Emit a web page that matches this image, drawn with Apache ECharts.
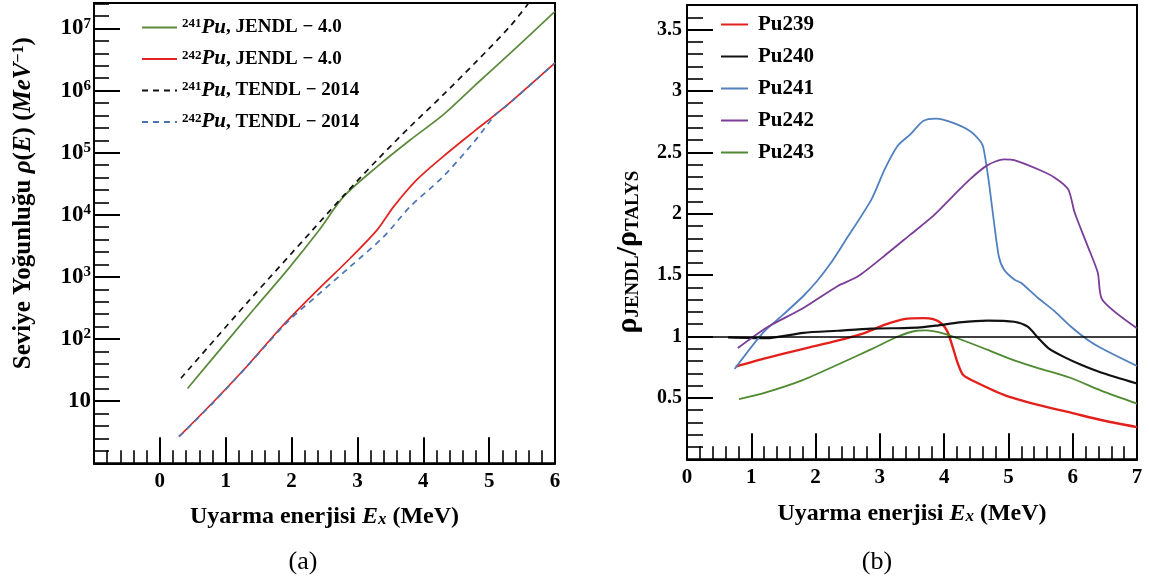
<!DOCTYPE html>
<html><head><meta charset="utf-8">
<script src="https://cdn.jsdelivr.net/npm/echarts@6/dist/echarts.min.js"></script>
<style>
html,body{margin:0;padding:0;background:#fff}
#wrap{position:relative;width:1149px;height:583px}
#ca{position:absolute;left:0;top:0;width:580px;height:583px}
#cb{position:absolute;left:580px;top:0;width:569px;height:583px}
</style>
</head><body><div id="wrap"><div id="ca"></div><div id="cb"></div></div>
<script>
// ---------- Panel (a): level density, log scale ----------
const A_X_241_JENDL = [0.42, 0.97, 1.44, 1.95, 2.42, 2.79, 3.3, 3.8, 4.3, 4.79, 5.33, 6.0];
const A_Y_241_JENDL = [16, 80, 313, 1350, 5700, 19600, 59700, 160000, 406000, 1230000, 4100000, 18800000];
const A_X_242_JENDL = [0.29, 0.815, 1.34, 1.85, 2.37, 2.89, 3.3, 3.55, 3.9, 4.3, 4.79, 5.08, 5.33, 6.0];
const A_Y_242_JENDL = [2.68, 9.8, 38.3, 158, 580, 2000, 5720, 13550, 36500, 86500, 229000, 400000, 660000, 2800000];
const A_X_241_TENDL = [0.32, 1.34, 2.32, 2.8, 3.3, 3.8, 4.3, 4.79, 5.33, 5.6];
const A_Y_241_TENDL = [23.4, 400, 5710, 20900, 76600, 263000, 850000, 2820000, 11200000, 25700000];
const A_X_242_TENDL = [0.29, 0.815, 1.34, 1.95, 2.37, 2.89, 3.4, 3.8, 4.3, 4.79, 5.08, 5.33, 6.0];
const A_Y_242_TENDL = [2.68, 9.6, 38, 195, 482, 1466, 4460, 13550, 41200, 158000, 390000, 650000, 2800000];
const A_ISOTOPES = ['241', '242', '241', '242'];
const A_LIBS = ['JENDL − 4.0', 'JENDL − 4.0', 'TENDL − 2014', 'TENDL − 2014'];
const A_X_TICKS = { min: -1, max: 6, step: 1 };
const A_Y_RANGE = { min: 1, maxExp: 7.41, minorStepExp: 0.2 };

// ---------- Panel (b): ratio JENDL / TALYS ----------
const B_NAMES = ['Pu239', 'Pu240', 'Pu241', 'Pu242', 'Pu243'];
const B_X_PU239 = [0.76, 1.23, 1.81, 2.34, 2.76, 3.08, 3.375, 3.675, 3.83, 3.95, 4.05, 4.13, 4.21, 4.29, 4.4, 4.93, 5.46, 5.97, 6.44, 7.0];
const B_Y_PU239 = [0.756, 0.824, 0.9, 0.966, 1.028, 1.096, 1.142, 1.15, 1.142, 1.11, 1.042, 0.92, 0.785, 0.69, 0.652, 0.525, 0.443, 0.38, 0.32, 0.262];
const B_X_PU240 = [0.64, 1.23, 1.81, 2.34, 2.87, 3.375, 3.625, 3.875, 4.24, 4.67, 5.09, 5.3, 5.46, 5.62, 5.87, 6.13, 6.44, 7.0];
const B_Y_PU240 = [0.993, 0.987, 1.03, 1.047, 1.064, 1.069, 1.074, 1.088, 1.115, 1.13, 1.12, 1.08, 0.99, 0.906, 0.832, 0.77, 0.707, 0.617];
const B_X_PU241 = [0.74, 1.18, 1.5, 1.81, 2.02, 2.24, 2.45, 2.87, 3.075, 3.275, 3.475, 3.675, 3.875, 4.13, 4.4, 4.56, 4.61, 4.69, 4.77, 4.85, 4.93, 5.09, 5.2, 5.46, 5.72, 5.97, 6.23, 6.44, 7.0];
const B_Y_PU241 = [0.735, 1.03, 1.18, 1.33, 1.45, 1.6, 1.77, 2.117, 2.362, 2.552, 2.647, 2.756, 2.775, 2.742, 2.674, 2.592, 2.538, 2.28, 1.953, 1.654, 1.545, 1.464, 1.436, 1.314, 1.205, 1.082, 0.974, 0.906, 0.76];
const B_X_PU242 = [0.79, 1.23, 1.81, 2.34, 2.66, 3.125, 3.475, 3.825, 4.13, 4.4, 4.67, 4.93, 5.09, 5.46, 5.72, 5.93, 6.03, 6.23, 6.39, 6.46, 7.0];
const B_Y_PU242 = [0.906, 1.07, 1.232, 1.41, 1.49, 1.68, 1.83, 1.98, 2.14, 2.28, 2.394, 2.443, 2.437, 2.362, 2.294, 2.198, 2.01, 1.74, 1.52, 1.3, 1.068];
const B_X_PU243 = [0.81, 1.23, 1.81, 2.34, 2.87, 3.28, 3.575, 3.72, 3.97, 4.24, 4.67, 5.09, 5.46, 5.97, 6.44, 7.0];
const B_Y_PU243 = [0.49, 0.545, 0.647, 0.77, 0.897, 1.0, 1.047, 1.05, 1.028, 0.98, 0.893, 0.806, 0.743, 0.662, 0.56, 0.454];
const B_REF_LINE = 1;
const B_X_TICKS = { min: 0, max: 7, step: 1 };
const B_Y_TICKS = { min: 0, max: 3.7, step: 0.5, minor: 0.1 };

// ---------- build ----------
const SERIF = '"Liberation Serif", "Times New Roman", serif';
const BLACK = '#000';
const zip = (xs, ys) => xs.map((x, i) => [x, ys[i]]);

const A_DATA = [
  zip(A_X_241_JENDL, A_Y_241_JENDL), zip(A_X_242_JENDL, A_Y_242_JENDL),
  zip(A_X_241_TENDL, A_Y_241_TENDL), zip(A_X_242_TENDL, A_Y_242_TENDL)
];
const A_COLORS = ['#5b8a3c', '#e3231f', '#111111', '#4a74b4'];
const A_DASH = ['solid', 'solid', [6, 5], [6, 5]];
const A_SERIES_NAMES = A_ISOTOPES.map((m, i) => m + 'Pu, ' + A_LIBS[i]);

const B_DATA = [
  zip(B_X_PU239, B_Y_PU239), zip(B_X_PU240, B_Y_PU240), zip(B_X_PU241, B_Y_PU241),
  zip(B_X_PU242, B_Y_PU242), zip(B_X_PU243, B_Y_PU243)
];
const B_COLORS = ['#e3211c', '#111111', '#5080bf', '#7a3d98', '#4e8a31'];
const B_WIDTHS = [2.4, 2.2, 1.8, 1.8, 1.8];

const line2 = () => ({ color: BLACK, width: 2 });
const line16 = () => ({ color: BLACK, width: 1.6 });
const baseLabel = { color: BLACK, fontFamily: SERIF, fontWeight: 'bold' };
const majorTick = () => ({ show: true, inside: true, length: 26, lineStyle: line2() });
const minorAxisTick = (len) => ({ show: true, inside: true, length: len, lineStyle: line16() });
const A_GRID = { left: 94, top: 3, width: 461, height: 460.3 };
const gridFrame = (g) => ({
  ...g, show: true, borderColor: BLACK, borderWidth: 2,
  backgroundColor: 'transparent', containLabel: false, outerBoundsMode: 'none'
});
const caption = (text, left) => ({
  text, left, top: 544, textAlign: 'center',
  textStyle: { fontFamily: SERIF, fontSize: 26, fontWeight: 'normal', color: BLACK }
});

function decadeLabel(v) {
  const l = Math.log10(v);
  const e = Math.round(l);
  if (Math.abs(l - e) > 1e-6 || e <= 0) return '';
  if (e === 1) return '{b|10}';
  return '{b|10}{s|' + e + '}';
}

// y-axis tick marks of the log axis in panel (a), placed through the axis scale (decades + 0.2-decade minors)
const A_X_PER_PX = (A_X_TICKS.max - A_X_TICKS.min) / A_GRID.width;
const A_Y_TICK_MARKS = [];
for (let k = 1; k * A_Y_RANGE.minorStepExp <= A_Y_RANGE.maxExp - 1e-9; k++) {
  const e = +(k * A_Y_RANGE.minorStepExp).toFixed(6);
  const major = Math.abs(e - Math.round(e)) < 1e-6;
  const v = Math.pow(10, e);
  A_Y_TICK_MARKS.push([
    { coord: [A_X_TICKS.min, v], lineStyle: { color: BLACK, width: major ? 2 : 1.6, type: 'solid' } },
    { coord: [A_X_TICKS.min + (major ? 26 : 15) * A_X_PER_PX, v] }
  ]);
}

const xTitle = (gap) => ({
  name: 'Uyarma enerjisi {i|E}{sub|x} (MeV)', nameLocation: 'middle', nameGap: gap,
  nameTextStyle: {
    ...baseLabel, fontSize: 24,
    rich: {
      i: { fontFamily: SERIF, fontWeight: 'bold', fontStyle: 'italic', fontSize: 24 },
      sub: { fontFamily: SERIF, fontWeight: 'bold', fontStyle: 'italic', fontSize: 17, verticalAlign: 'bottom' }
    }
  }
});

// ----- option for panel (a) -----
const optionA = {
  animation: false,
  backgroundColor: 'transparent',
  title: [caption('(a)', 298)],
  grid: [gridFrame(A_GRID)],
  legend: [{
    data: A_SERIES_NAMES, orient: 'vertical', left: 141, top: 17,
    itemWidth: 35, itemHeight: 12, itemGap: 10.5, padding: 0,
    itemStyle: { opacity: 0 },
    formatter: name => {
      const m = name.match(/^(\d+)Pu, (.*)$/);
      return '{s|' + m[1] + '}{i|Pu}{b|, ' + m[2] + '}';
    },
    textStyle: {
      color: BLACK, fontFamily: SERIF, fontWeight: 'bold', fontSize: 19, lineHeight: 20,
      rich: {
        s: { fontFamily: SERIF, fontWeight: 'bold', fontSize: 13, verticalAlign: 'top', lineHeight: 20 },
        i: { fontFamily: SERIF, fontWeight: 'bold', fontStyle: 'italic', fontSize: 21, lineHeight: 20 },
        b: { fontFamily: SERIF, fontWeight: 'bold', fontSize: 19, lineHeight: 20 }
      }
    }
  }],
  xAxis: [{
    gridIndex: 0, type: 'value', position: 'bottom', min: A_X_TICKS.min, max: A_X_TICKS.max, interval: A_X_TICKS.step,
    axisLine: { show: true, onZero: false, lineStyle: line2() },
    axisTick: majorTick(),
    minorTick: { show: true, splitNumber: 5, length: 13, lineStyle: line16() },
    splitLine: { show: false },
    axisLabel: { show: true, ...baseLabel, fontSize: 21, margin: 8, formatter: v => (v < 0 ? '' : String(v)) },
    ...xTitle(41)
  }],
  yAxis: [{
    gridIndex: 0, type: 'log', logBase: 10, position: 'left',
    min: A_Y_RANGE.min, max: Math.pow(10, A_Y_RANGE.maxExp), splitNumber: 7,
    axisLine: { show: true, onZero: false, lineStyle: line2() },
    axisTick: majorTick(),
    splitLine: { show: false },
    axisLabel: {
      show: true, ...baseLabel, margin: 3, formatter: decadeLabel,
      rich: {
        b: { fontFamily: SERIF, fontWeight: 'bold', fontSize: 23, lineHeight: 24 },
        s: { fontFamily: SERIF, fontWeight: 'bold', fontSize: 15, verticalAlign: 'top', lineHeight: 24 }
      }
    },
    name: 'Seviye Yoğunluğu {i|ρ}({i|E}) ({i|MeV}{sup|−1})',
    nameLocation: 'middle', nameRotate: 90, nameGap: 58,
    nameTextStyle: {
      ...baseLabel, fontSize: 25, padding: [0, 0, 0, 60],
      rich: {
        i: { fontFamily: SERIF, fontWeight: 'bold', fontStyle: 'italic', fontSize: 25 },
        sup: { fontFamily: SERIF, fontWeight: 'bold', fontSize: 16, verticalAlign: 'top' }
      }
    }
  }],
  series: [
    ...A_DATA.map((d, i) => ({
      name: A_SERIES_NAMES[i], type: 'line', xAxisIndex: 0, yAxisIndex: 0,
      data: d, symbol: 'none', showSymbol: false, smooth: 0.3,
      lineStyle: { color: A_COLORS[i], width: 1.7, type: A_DASH[i] },
      itemStyle: { color: A_COLORS[i] }, z: 3
    })),
    {
      name: 'y-ticks', type: 'line', xAxisIndex: 0, yAxisIndex: 0,
      data: [[A_X_TICKS.min, A_Y_RANGE.min]], symbol: 'none', showSymbol: false,
      lineStyle: { width: 0, opacity: 0 }, silent: true, z: 4,
      markLine: {
        silent: true, animation: false, symbol: ['none', 'none'], label: { show: false },
        lineStyle: { color: BLACK, width: 1.6, type: 'solid' },
        emphasis: { disabled: true },
        data: A_Y_TICK_MARKS
      }
    }
  ]
};

// ----- option for panel (b) (its canvas starts at x = 580) -----
const optionB = {
  animation: false,
  backgroundColor: 'transparent',
  title: [caption('(b)', 292)],
  grid: [gridFrame({ left: 107, top: 5, width: 450, height: 454.3 })],
  legend: [{
    data: B_NAMES, orient: 'vertical', left: 140, top: 14,
    itemWidth: 27, itemHeight: 12, itemGap: 11, padding: 0,
    itemStyle: { opacity: 0 },
    textStyle: { color: BLACK, fontFamily: SERIF, fontWeight: 'bold', fontSize: 21, lineHeight: 20, padding: [0, 0, 0, 5] }
  }],
  xAxis: [{
    gridIndex: 0, type: 'value', position: 'bottom', min: B_X_TICKS.min, max: B_X_TICKS.max, interval: B_X_TICKS.step,
    axisLine: { show: true, onZero: false, lineStyle: line2() },
    axisTick: majorTick(),
    minorTick: { show: true, splitNumber: 5, length: 13, lineStyle: line16() },
    splitLine: { show: false },
    axisLabel: { show: true, ...baseLabel, fontSize: 21, margin: 8 },
    ...xTitle(42)
  }],
  yAxis: [
    {
      gridIndex: 0, type: 'value', position: 'left', min: B_Y_TICKS.min, max: B_Y_TICKS.max, interval: B_Y_TICKS.step,
      axisLine: { show: true, onZero: false, lineStyle: line2() },
      axisTick: majorTick(),
      splitLine: { show: false },
      axisLabel: {
        show: true, ...baseLabel, fontSize: 20, margin: 5,
        formatter: v => {
          const k = Math.round(v / B_Y_TICKS.step);
          if (Math.abs(v - k * B_Y_TICKS.step) > 1e-6 || k === 0 || v > 3.55) return '';
          return String(+v.toFixed(1));
        }
      },
      name: '{r|ρ}{sub|JENDL}{r|/ρ}{sub|TALYS}',
      nameLocation: 'middle', nameRotate: 90, nameGap: 44,
      nameTextStyle: {
        ...baseLabel, fontSize: 30, padding: [0, 40, 0, 0],
        rich: {
          r: { fontFamily: SERIF, fontWeight: 'bold', fontSize: 30 },
          sub: { fontFamily: SERIF, fontWeight: 'bold', fontSize: 19, verticalAlign: 'bottom' }
        }
      }
    },
    {
      gridIndex: 0, type: 'value', position: 'left', min: B_Y_TICKS.min, max: B_Y_TICKS.max, interval: B_Y_TICKS.minor,
      axisLine: { show: false, onZero: false },
      axisTick: minorAxisTick(16),
      axisLabel: { show: false }, splitLine: { show: false }
    }
  ],
  series: B_DATA.map((d, i) => ({
    name: B_NAMES[i], type: 'line', xAxisIndex: 0, yAxisIndex: 0,
    data: d, symbol: 'none', showSymbol: false, smooth: 0.25,
    lineStyle: { color: B_COLORS[i], width: B_WIDTHS[i] },
    itemStyle: { color: B_COLORS[i] }, z: 3,
    markLine: i === 1 ? {
      silent: true, symbol: ['none', 'none'], label: { show: false },
      lineStyle: { color: BLACK, width: 1.5, type: 'solid' },
      data: [{ yAxis: B_REF_LINE }]
    } : undefined
  }))
};

echarts.init(document.getElementById('ca')).setOption(optionA);
echarts.init(document.getElementById('cb')).setOption(optionB);
</script>
</body></html>
